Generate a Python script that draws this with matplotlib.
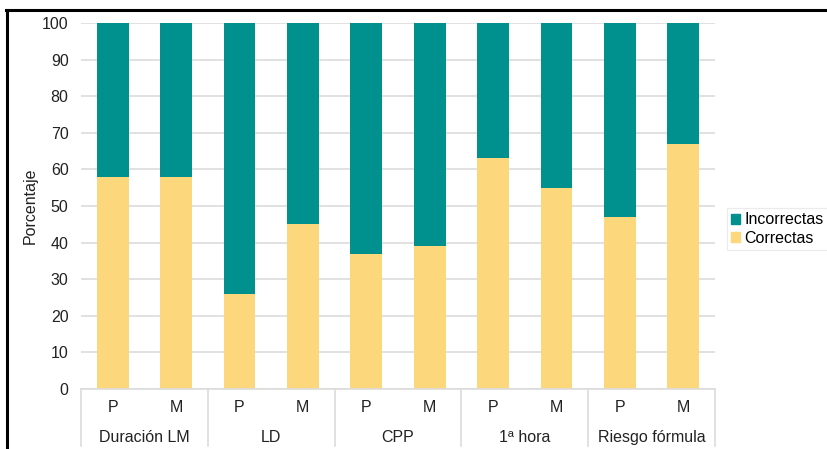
import matplotlib.pyplot as plt
from matplotlib.lines import Line2D
from matplotlib.patches import Patch

plt.rcParams['font.family'] = ['Liberation Sans', 'DejaVu Sans']

groups = ["Duración LM", "LD", "CPP", "1ª hora", "Riesgo fórmula"]
subgroups = ["P", "M"]
correctas = [58, 58, 26, 45, 37, 39, 63, 55, 47, 67]
incorrectas = [100 - v for v in correctas]

teal = "#00908D"
yellow = "#FDD77C"
grid_c = "#DCDCDC"
txt_c = "#222222"

fig = plt.figure(figsize=(8.27, 4.49), dpi=100)
ax = fig.add_axes([81 / 827, 1 - 389 / 449, (715 - 81) / 827, (389 - 23) / 449])

x = list(range(len(correctas)))
ax.bar(x, correctas, width=0.5, color=yellow, zorder=2)
ax.bar(x, incorrectas, width=0.5, bottom=correctas, color=teal, zorder=2)

ax.set_xlim(-0.5, len(x) - 0.5)
ax.set_ylim(0, 100)
ax.set_yticks(range(0, 101, 10))
ax.yaxis.grid(True, color=grid_c, linewidth=1.2, zorder=0)
ax.set_axisbelow(True)
for s in ["top", "right", "left"]:
    ax.spines[s].set_visible(False)
ax.spines["bottom"].set_color(grid_c)
ax.spines["bottom"].set_linewidth(1.2)
ax.tick_params(axis="y", length=0, labelsize=11.5, colors=txt_c, pad=9)
ax.set_xticks([])
ax.set_ylabel("Porcentaje", fontsize=11.5, color=txt_c, labelpad=3)

# two-level category axis
trans = ax.get_xaxis_transform()
for i in x:
    ax.text(i, -0.05, subgroups[i % 2], transform=trans, ha="center", va="center",
            fontsize=11.5, color=txt_c)
for g, name in enumerate(groups):
    ax.text(2 * g + 0.5, -0.132, name, transform=trans, ha="center", va="center",
            fontsize=11.5, color=txt_c)
for b in range(len(groups) + 1):
    ax.add_line(Line2D([2 * b - 0.5, 2 * b - 0.5], [0, -0.155], transform=trans,
                       color=grid_c, linewidth=1.2, clip_on=False))

handles = [Patch(color=teal), Patch(color=yellow)]
leg = fig.legend(handles, ["Incorrectas", "Correctas"], loc="center left",
                 bbox_to_anchor=(727 / 827, 1 - 229 / 449), fontsize=11.5,
                 handlelength=0.55, handleheight=0.55, handletextpad=0.3,
                 labelspacing=0.2, borderpad=0.25, borderaxespad=0.0,
                 frameon=True, fancybox=False)
leg.get_frame().set_edgecolor("#E6E6E6")
leg.get_frame().set_linewidth(0.8)

# outer frame lines
fig.add_artist(Line2D([6 / 827, 1], [1 - 9.5 / 449, 1 - 9.5 / 449], transform=fig.transFigure,
                      color="black", linewidth=2.2))
fig.add_artist(Line2D([6.5 / 827, 6.5 / 827], [0, 1 - 9.5 / 449], transform=fig.transFigure,
                      color="black", linewidth=2.2))

fig.savefig("out.png", dpi=100)
